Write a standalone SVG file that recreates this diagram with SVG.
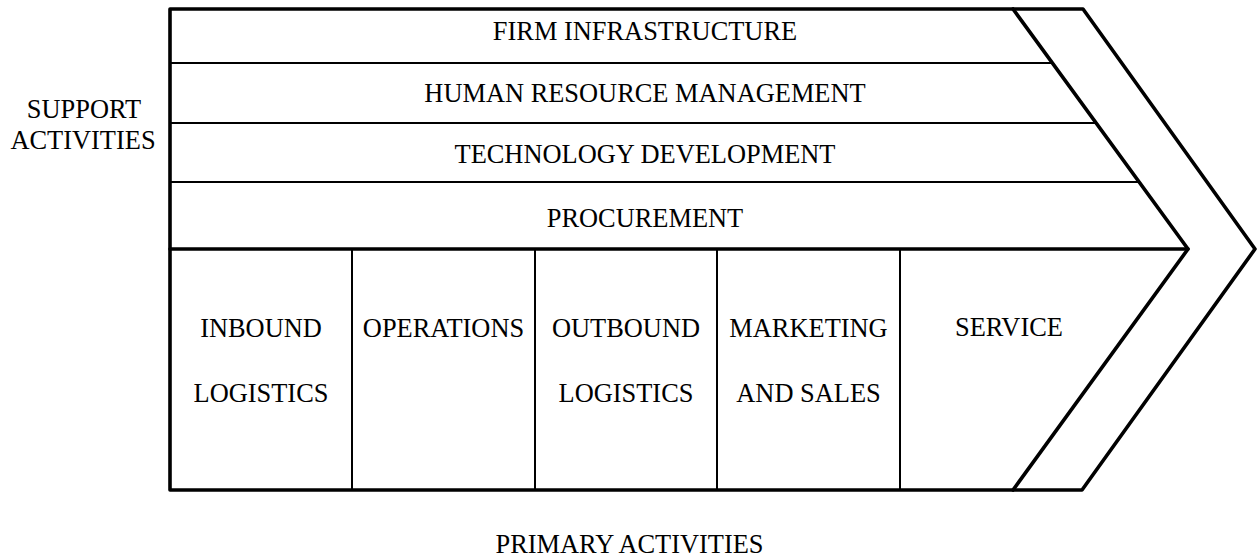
<svg xmlns="http://www.w3.org/2000/svg" width="1257" height="560" viewBox="0 0 1257 560">
<style>
.t{font-family:"Liberation Serif","Times New Roman",serif;font-size:26.4px;fill:#000;text-anchor:middle}
.thick{stroke:#000;stroke-width:3.6;fill:none;stroke-linecap:round;stroke-linejoin:round}
.thin{stroke:#000;stroke-width:2;fill:none}
</style>
<rect x="0" y="0" width="1257" height="560" fill="#fff"/>
<g id="frame">
<path class="thick" d="M170,9 L1083,9 L1255,249 L1082,490 L170,490 Z"/>
<path class="thick" d="M1013,9 L1188,249 L1013,490"/>
<line class="thick" x1="170" y1="249" x2="1188" y2="249"/>
</g>
<g id="connectors">
<line class="thin" x1="170" y1="63" x2="1052" y2="63"/>
<line class="thin" x1="170" y1="123" x2="1096" y2="123"/>
<line class="thin" x1="170" y1="182" x2="1139" y2="182"/>
<line class="thin" x1="352" y1="249" x2="352" y2="490"/>
<line class="thin" x1="535" y1="249" x2="535" y2="490"/>
<line class="thin" x1="717" y1="249" x2="717" y2="490"/>
<line class="thin" x1="900" y1="249" x2="900" y2="490"/>
</g>
<g id="firm-infrastructure"><text class="t" x="645" y="40">FIRM INFRASTRUCTURE</text></g>
<g id="hrm"><text class="t" x="645" y="102">HUMAN RESOURCE MANAGEMENT</text></g>
<g id="technology"><text class="t" x="645" y="163">TECHNOLOGY DEVELOPMENT</text></g>
<g id="procurement"><text class="t" x="645" y="227">PROCUREMENT</text></g>
<g id="inbound"><text class="t" x="261" y="337">INBOUND</text><text class="t" x="261" y="402">LOGISTICS</text></g>
<g id="operations"><text class="t" x="443.5" y="337">OPERATIONS</text></g>
<g id="outbound"><text class="t" x="626" y="337">OUTBOUND</text><text class="t" x="626" y="402">LOGISTICS</text></g>
<g id="marketing"><text class="t" x="808.5" y="337">MARKETING</text><text class="t" x="808.5" y="402">AND SALES</text></g>
<g id="service"><text class="t" x="1009" y="336">SERVICE</text></g>
<g id="support-label"><text class="t" x="84" y="118">SUPPORT</text><text class="t" x="83" y="149">ACTIVITIES</text></g>
<g id="primary-label"><text class="t" x="629.5" y="553">PRIMARY ACTIVITIES</text></g>
</svg>
